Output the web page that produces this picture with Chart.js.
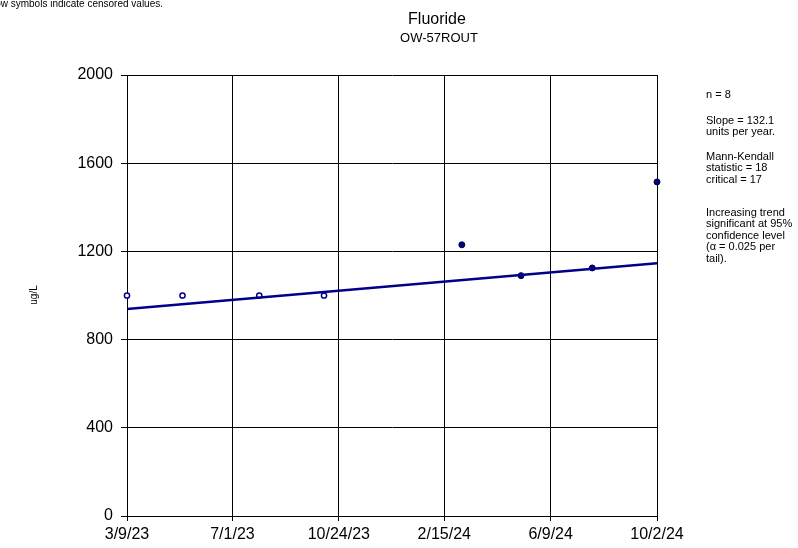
<!DOCTYPE html>
<html>
<head>
<meta charset="utf-8">
<script src="https://cdn.jsdelivr.net/npm/chart.js@4"></script>
<style>
  html, body { margin: 0; padding: 0; background: #fff; }
  #wrap { width: 798px; height: 548px; }
</style>
</head>
<body>
<div id="wrap"><canvas id="chart" width="798" height="548"></canvas></div>
<script>
(function () {
    "use strict";

    // Data
    const sampleDates = ["3/9/23", "5/8/23", "7/30/23", "10/8/23", "3/5/24", "5/8/24", "7/24/24", "10/2/24"];
    const fluoride = [1000, 1000, 1000, 1000, 1230, 1090, 1125, 1515];
    const censored = [true, true, true, true, false, false, false, false];
    const trendDates = ["3/9/23", "10/2/24"];
    const trendValues = [939, 1146];
    const tickDates = ["3/9/23", "7/1/23", "10/24/23", "2/15/24", "6/9/24", "10/2/24"];
    const statsLines = [
        ["n = 8"],
        ["Slope = 132.1", "units per year."],
        ["Mann-Kendall", "statistic = 18", "critical = 17"],
        ["Increasing trend", "significant at 95%", "confidence level", "(\u03b1 = 0.025 per", "tail)."],
    ];

    const navy = "#00008b";
    const FONT = "'Liberation Sans', Arial, sans-serif";

    // days since the first tick date
    const toDay = (s) => {
        const [m, d, y] = s.split("/").map(Number);
        return Date.UTC(2000 + y, m - 1, d) / 86400000;
    };
    const day0 = toDay(tickDates[0]);
    const dayOf = (s) => toDay(s) - day0;
    const tickDays = tickDates.map(dayOf);

    const pts = (keep) =>
        sampleDates
            .map((d, i) => ({ x: dayOf(d), y: fluoride[i], c: censored[i] }))
            .filter((p) => p.c === keep);

    // Text outside the plot
    const textPlugin = {
        id: "texts",
        afterDraw(chart) {
            const c = chart.ctx;
            c.save();
            c.fillStyle = "#000";
            c.textBaseline = "middle";

            c.font = "10px " + FONT;
            c.textAlign = "right";
            c.fillText("Hollow symbols indicate censored values.", 163, 4);

            c.textAlign = "center";
            c.font = "16px " + FONT;
            c.fillText("Fluoride", 437, 20);
            c.font = "13px " + FONT;
            c.fillText("OW-57ROUT", 439, 38);

            c.save();
            c.translate(34, 295);
            c.rotate(-Math.PI / 2);
            c.font = "10px " + FONT;
            c.fillText("ug/L", 0, 0);
            c.restore();

            c.textAlign = "left";
            c.font = "11px " + FONT;
            const blockTops = [95, 121, 157, 213];
            statsLines.forEach((lines, b) => {
                lines.forEach((t, i) => c.fillText(t, 706, blockTops[b] + i * 11.4));
            });
            c.restore();
        },
    };

    new Chart(document.getElementById("chart").getContext("2d"), {
        type: "scatter",
        data: {
            datasets: [
                {
                    label: "Trend",
                    type: "line",
                    data: trendDates.map((d, i) => ({ x: dayOf(d), y: trendValues[i] })),
                    borderColor: navy,
                    borderWidth: 2.5,
                    pointRadius: 0,
                    fill: false,
                },
                {
                    label: "Censored",
                    data: pts(true),
                    pointStyle: "circle",
                    pointRadius: 2.6,
                    borderWidth: 1.5,
                    borderColor: navy,
                    backgroundColor: "#fff",
                },
                {
                    label: "Detected",
                    data: pts(false),
                    pointStyle: "circle",
                    pointRadius: 3,
                    borderWidth: 1,
                    borderColor: "#000040",
                    backgroundColor: navy,
                },
            ],
        },
        options: {
            responsive: false,
            animation: false,
            clip: false,
            layout: { padding: { top: 75, right: 141, bottom: 0, left: 0 } },
            plugins: {
                legend: { display: false },
                tooltip: { enabled: false },
            },
            scales: {
                x: {
                    type: "linear",
                    min: tickDays[0],
                    max: tickDays[tickDays.length - 1],
                    afterBuildTicks: (scale) => {
                        scale.ticks = tickDays.map((v) => ({ value: v }));
                    },
                    afterFit: (scale) => {
                        scale.height = 32;
                    },
                    ticks: {
                        autoSkip: false,
                        maxRotation: 0,
                        padding: 4,
                        color: "#000",
                        font: { family: FONT, size: 16 },
                        callback: (v) => tickDates[tickDays.indexOf(v)],
                    },
                    grid: { color: "#000", lineWidth: 1, tickLength: 5 },
                    border: { color: "#000", width: 1 },
                },
                y: {
                    min: 0,
                    max: 2000,
                    afterFit: (scale) => {
                        scale.width = 127;
                    },
                    ticks: {
                        stepSize: 400,
                        padding: 8,
                        color: "#000",
                        font: { family: FONT, size: 16 },
                        callback: (v) => String(v),
                    },
                    grid: { color: "#000", lineWidth: 1, tickLength: 6 },
                    border: { color: "#000", width: 1 },
                },
            },
        },
        plugins: [textPlugin],
    });
})();
</script>
</body>
</html>
